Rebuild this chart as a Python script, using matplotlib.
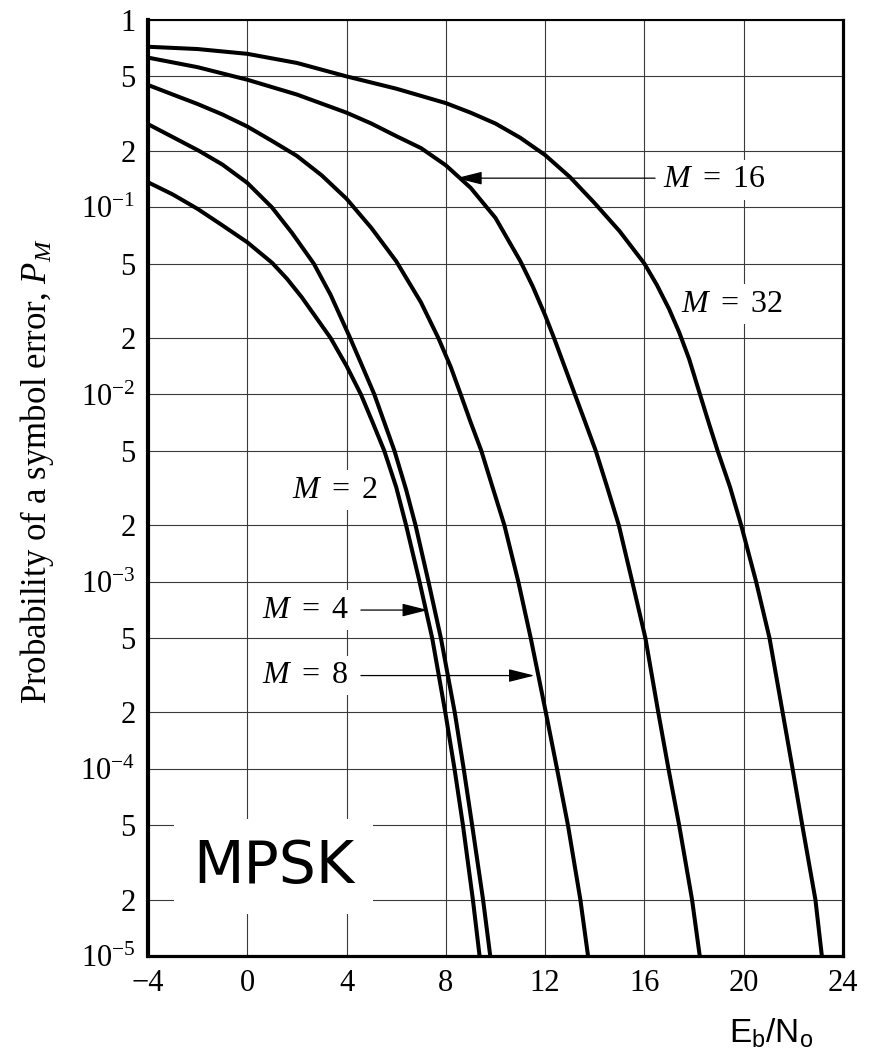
import matplotlib
matplotlib.use("Agg")
import matplotlib.pyplot as plt
from matplotlib.ticker import FixedLocator, FixedFormatter

plt.rcParams['font.family'] = ['Liberation Serif', 'DejaVu Serif']
plt.rcParams['mathtext.fontset'] = 'custom'
plt.rcParams['mathtext.rm'] = 'Liberation Serif'
plt.rcParams['mathtext.it'] = 'Liberation Serif:italic'
plt.rcParams['mathtext.sf'] = 'Liberation Sans'

# curves (Eb/No in dB, symbol error probability)
m2_x = [-4, -3, -2, -1, 0, 1, 1.6, 2.2, 3.36, 4.0, 4.58, 5.05, 5.52, 6.0, 6.40, 6.94, 7.45, 7.98, 8.35, 8.69,
        9.09, 9.36]
m2_y = [0.136, 0.117, 0.098, 0.08, 0.065, 0.0505, 0.0415, 0.033, 0.02, 0.0142, 0.01, 7.1e-3, 5e-3, 3.2e-3, 2e-3,
        1e-3, 5e-4, 2e-4, 1e-4, 5e-5, 2e-5, 1e-5]

m4_x = [-4, -3, -1.94, -1, 0, 0.99, 1.8, 2.68, 3.36, 4.11, 4.6, 5.12, 5.93, 6.4, 6.78, 7.3, 7.8, 8.36, 8.72,
        9.06, 9.5, 9.79]
m4_y = [0.278, 0.237, 0.2, 0.169, 0.135, 0.1, 0.073, 0.05, 0.034, 0.0205, 0.0145, 0.01, 5e-3, 3.1e-3, 2e-3,
        1e-3, 5e-4, 2e-4, 1e-4, 5e-5, 2e-5, 1e-5]

m8_x = [-4, -3, -2, -1, 0, 1, 2, 3, 4, 5, 6, 7, 7.7, 8.2, 8.6, 9.0, 9.43, 9.9, 10.36, 10.92, 11.42, 12.03,
        12.48, 12.92, 13.42, 13.73]
m8_y = [0.45, 0.40, 0.356, 0.313, 0.27, 0.226, 0.188, 0.148, 0.111, 0.0775, 0.0515, 0.031, 0.02, 0.014, 0.01,
        7.1e-3, 5e-3, 3.14e-3, 2e-3, 1e-3, 5e-4, 2e-4, 1e-4, 5e-5, 2e-5, 1e-5]

m16_x = [-4, -2, 0, 2, 4, 5, 6, 7, 8, 9, 10, 11, 11.5, 12, 12.36, 13.2, 13.6, 14.04, 14.5, 14.97, 15.51, 16.04,
         16.56, 16.97, 17.40, 17.92, 18.23]
m16_y = [0.63, 0.56, 0.48, 0.40, 0.32, 0.28, 0.24, 0.207, 0.1675, 0.127, 0.0877, 0.0516, 0.0378, 0.0265, 0.02,
         0.01, 7.2e-3, 5e-3, 3.2e-3, 2e-3, 1e-3, 5e-4, 2e-4, 1e-4, 5e-5, 2e-5, 1e-5]

m32_x = [-4, -2, 0, 2, 4, 6, 8, 9, 10, 11, 12, 13, 14, 15, 16, 16.5, 17, 17.4, 17.8, 18.24, 18.6, 18.95, 19.45,
         19.9, 20.5, 21.04, 21.57, 21.97, 22.36, 22.89, 23.15]
m32_y = [0.72, 0.70, 0.66, 0.59, 0.50, 0.43, 0.36, 0.32, 0.28, 0.235, 0.19, 0.145, 0.105, 0.0745, 0.05, 0.0385,
         0.0285, 0.0215, 0.0155, 0.01, 7.0e-3, 5e-3, 3.2e-3, 2e-3, 1e-3, 5e-4, 2e-4, 1e-4, 5e-5, 2e-5, 1e-5]

x_ticks = [-4, 0, 4, 8, 12, 16, 20, 24]
x_labels = ['\u22124', '0', '4', '8', '12', '16', '20', '24']
y_ticks = [1, 0.5, 0.2, 0.1, 0.05, 0.02, 0.01, 5e-3, 2e-3, 1e-3, 5e-4, 2e-4, 1e-4, 5e-5, 2e-5, 1e-5]
y_labels = ['1', '5', '2', r'$\mathrm{10^{-1}}$', '5', '2', r'$\mathrm{10^{-2}}$', '5', '2',
            r'$\mathrm{10^{-3}}$', '5', '2', r'$\mathrm{10^{-4}}$', '5', '2', r'$\mathrm{10^{-5}}$']

fig = plt.figure(figsize=(8.73, 10.55), dpi=100)
ax = fig.add_axes([0.1695, 0.0938, 0.7961, 0.8872])
ax.set_yscale('log')
ax.set_xlim(-4, 24)
ax.set_ylim(1e-5, 1)

ax.xaxis.set_major_locator(FixedLocator(x_ticks))
ax.xaxis.set_major_formatter(FixedFormatter(x_labels))
ax.yaxis.set_major_locator(FixedLocator(y_ticks))
ax.yaxis.set_major_formatter(FixedFormatter(y_labels))
ax.yaxis.set_minor_locator(FixedLocator([]))
ax.tick_params(axis='both', length=0, labelsize=22)
ax.tick_params(axis='y', pad=9)
ax.tick_params(axis='x', pad=9)
ax.grid(True, color='#3a3a3a', linewidth=0.8)
ax.set_axisbelow(True)

ax.spines['left'].set_linewidth(3.0)
ax.spines['bottom'].set_linewidth(2.3)
ax.spines['right'].set_linewidth(2.3)
ax.spines['top'].set_linewidth(1.5)

for xs, ys in [(m2_x, m2_y), (m4_x, m4_y), (m8_x, m8_y), (m16_x, m16_y), (m32_x, m32_y)]:
    ax.plot(xs, ys, color='black', linewidth=2.9, solid_joinstyle='round', zorder=3)

# white boxes hide the grid behind the labels, curves stay on top
box = dict(facecolor='white', edgecolor='none', pad=4)
arrow = dict(arrowstyle='-|>,head_length=0.8,head_width=0.2', color='black', lw=0.9,
             mutation_scale=20, shrinkA=0, shrinkB=0)

lab = dict(fontsize=23, ha='left', va='center', bbox=box, zorder=2.5)
ax.text(16.74, 0.14, '$M\\ =\\ 16$', **lab)
ax.annotate('', xy=(8.42, 0.143), xytext=(16.43, 0.143), arrowprops=arrow, zorder=4)
ax.text(17.48, 0.0303, '$M\\ =\\ 32$', **lab)
ax.text(1.82, 3.08e-3, '$M\\ =\\ 2$', **lab)
ax.text(0.6, 7.05e-4, '$M\\ =\\ 4$', **lab)
ax.annotate('', xy=(7.28, 7.05e-4), xytext=(4.58, 7.05e-4), arrowprops=arrow, zorder=4)
ax.text(0.6, 3.15e-4, '$M\\ =\\ 8$', **lab)
ax.annotate('', xy=(11.57, 3.15e-4), xytext=(4.58, 3.15e-4), arrowprops=arrow, zorder=4)

ax.text(1.05, 2.45e-5, 'MPSK', fontsize=42, family='DejaVu Sans', ha='center', va='baseline',
        bbox=dict(facecolor='white', edgecolor='none', pad=14), zorder=2.5)

fig.text(0.042, 0.553, 'Probability of a symbol error, $P_M$', rotation=90, fontsize=25,
         ha='center', va='center')
fig.text(0.883, 0.0114, r'$\mathsf{E_b/N_o}$', fontsize=24, ha='center', va='baseline')

fig.savefig('out.png', dpi=100)
